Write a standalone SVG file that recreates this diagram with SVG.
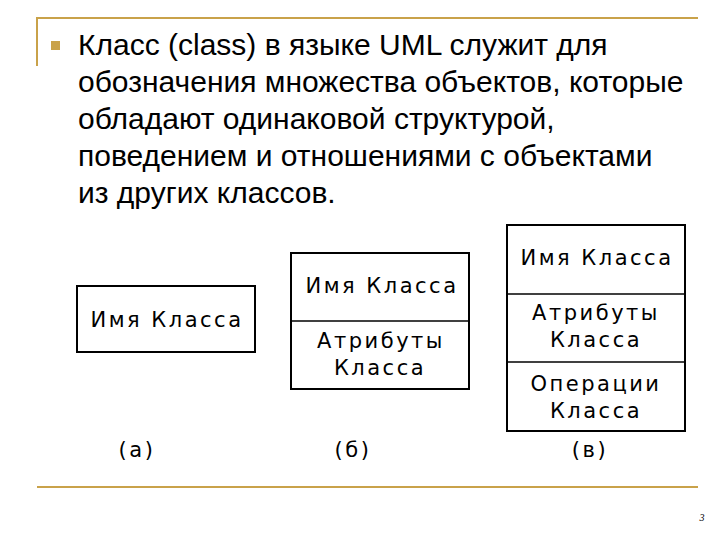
<svg xmlns="http://www.w3.org/2000/svg" width="720" height="540" viewBox="0 0 720 540">
<style>
.t{font-family:"Liberation Sans",Arial,sans-serif;font-size:30px;fill:#000}
.b{fill:#fff;stroke:#000;stroke-width:2}
.d{stroke:#000;stroke-width:1.5}
.l{font-family:"DejaVu Sans",Verdana,sans-serif;font-size:21px;fill:#000;text-anchor:middle;letter-spacing:2.5px}
.g{stroke:#c9a24a;stroke-width:2;fill:none}
</style>
<rect width="720" height="540" fill="#fff"/>
<path class="g" d="M37 66V18H698"/>
<line class="g" x1="37" y1="487" x2="698" y2="487"/>
<rect x="51" y="41" width="9" height="9" fill="#c9a24a"/>
<text class="t"><tspan x="78" y="55">Класс (class) в языке UML служит для</tspan><tspan x="78" y="92">обозначения множества объектов, которые</tspan><tspan x="78" y="129">обладают одинаковой структурой,</tspan><tspan x="78" y="166">поведением и отношениями с объектами</tspan><tspan x="78" y="203">из других классов.</tspan></text>
<g id="a">
<rect class="b" x="77" y="286" width="178" height="66"/>
<text class="l" x="167" y="327">Имя Класса</text>
<text class="l" x="137" y="457">(а)</text>
</g>
<g id="b">
<rect class="b" x="291" y="253" width="178" height="136"/>
<line class="d" x1="291" y1="321" x2="469" y2="321"/>
<text class="l" x="382" y="293">Имя Класса</text>
<text class="l" x="381" y="348">Атрибуты</text>
<text class="l" x="380" y="375">Класса</text>
<text class="l" x="353" y="457">(б)</text>
</g>
<g id="c">
<rect class="b" x="507" y="225" width="178" height="206"/>
<line class="d" x1="507" y1="294" x2="685" y2="294"/>
<line class="d" x1="507" y1="362" x2="685" y2="362"/>
<text class="l" x="597" y="265">Имя Класса</text>
<text class="l" x="596" y="320">Атрибуты</text>
<text class="l" x="596" y="347">Класса</text>
<text class="l" x="596" y="391">Операции</text>
<text class="l" x="596" y="418">Класса</text>
<text class="l" x="590" y="457">(в)</text>
</g>
<g id="connectors"/>
<text x="702" y="521" font-family="Liberation Serif,serif" font-size="10" font-style="italic" text-anchor="middle">3</text>
</svg>
